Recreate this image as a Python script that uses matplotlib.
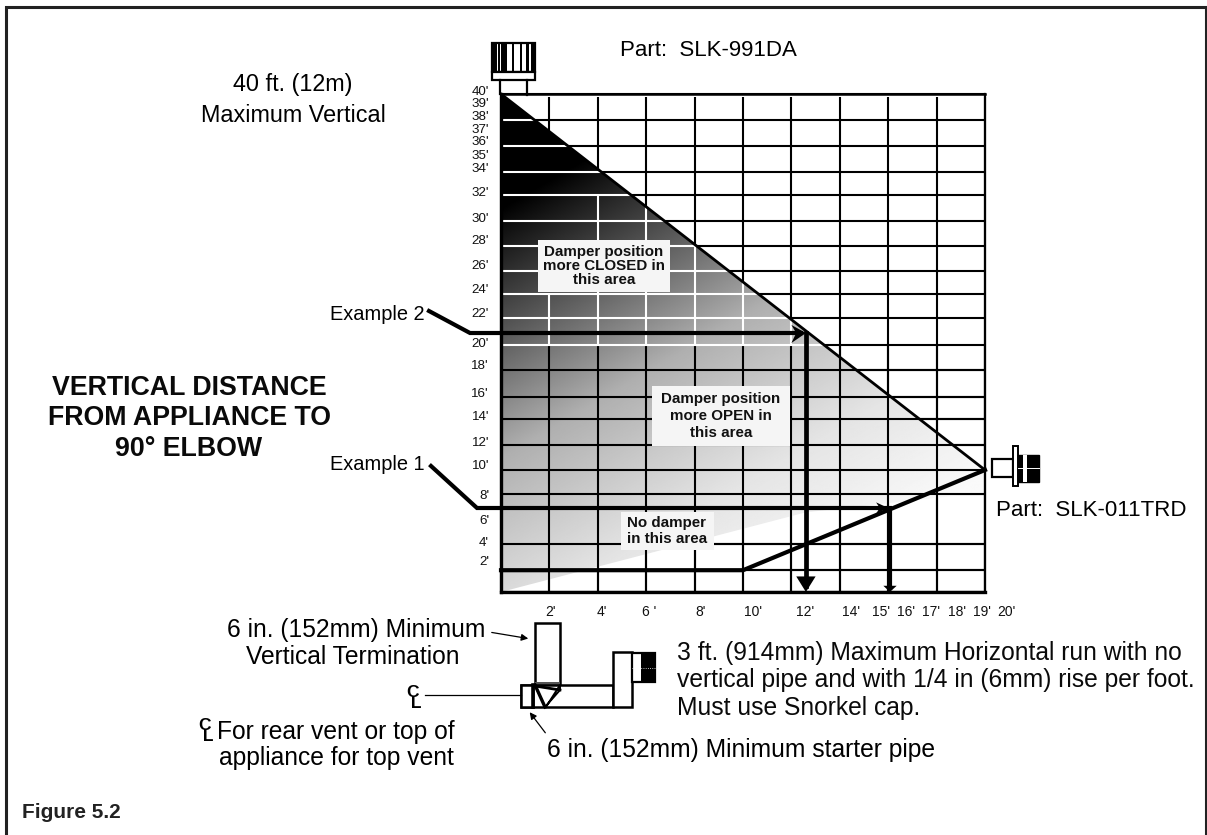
import numpy as np
import matplotlib
matplotlib.use("Agg")
import matplotlib.pyplot as plt
from matplotlib.patches import Polygon, Rectangle

plt.rcParams["font.family"] = ["Liberation Sans", "DejaVu Sans"]

# grid lines, in feet
x_grid = [0, 2, 4, 6, 8, 10, 12, 14, 16, 18, 20]
y_grid = [0, 1.75, 3.85, 7.9, 9.8, 11.8, 13.9, 15.7, 17.8, 19.85, 22.0, 23.9,
          25.8, 27.8, 29.8, 31.9, 33.7, 35.8, 37.9, 40]
# where the white part of each vertical line starts in the shaded area
x_white_top = [23.9, 32, 31, 27.8, 25.8, 23.9, 22, 20, 20, 20]

# vent limits and the two examples, in feet
limit_x = [0, 20]
limit_y = [40, 9.8]
min_x = [0, 10, 20]
min_y = [1.75, 1.75, 9.8]
ex1_x = [0, 15.9]
ex1_y = [6.75, 6.75]
ex2_x = [0, 12.4]
ex2_y = [20.8, 20.8]
ex1_drop = [16.07, 16.07]
ex1_drop_y = [6.75, 0.3]
ex2_drop = [12.6, 12.6]
ex2_drop_y = [20.8, 0.5]

y_labels = ["40'", "39'", "38'", "37'", "36'", "35'", "34'", "32'", "30'", "28'", "26'", "24'",
            "22'", "20'", "18'", "16'", "14'", "12'", "10'", "8'", "6'", "4'", "2'"]
y_label_px = [92, 104, 117, 130, 142, 156, 169, 193, 219, 241, 266, 290, 314, 344, 366, 394,
              417, 443, 466, 496, 521, 543, 562]
x_labels = ["2'", "4'", "6 '", "8'", "10'", "12'", "14'", "15'", "16'", "17'", "18'", "19'", "20'"]
x_label_px = [551, 602, 649, 701, 753, 805, 851, 881, 906, 931, 957, 982, 1006]

fig = plt.figure(figsize=(12.07, 8.35), dpi=100)

# overlay in pixels for the frame, texts and vent drawings
bg = fig.add_axes([0, 0, 1, 1])
bg.set_xlim(0, 1207)
bg.set_ylim(835, 0)
bg.axis("off")

# chart area 501..985 x 94..592 px
ax = fig.add_axes([501 / 1207, 1 - 592 / 835, 484 / 1207, 498 / 835])
ax.set_xlim(0, 20)
ax.set_ylim(0, 40)
ax.axis("off")
ax.patch.set_alpha(0)

LW = 1.5
ax.hlines(y_grid, 0, 20, color="black", lw=LW, zorder=1, clip_on=False)
ax.vlines(x_grid, 0, 39.75, color="black", lw=LW, zorder=1, clip_on=False)

# gradient under the limit line
tri = Polygon([[0, 40], [20, 9.8], [20, 8], [12.6, 6.4], [0, 0]], closed=True, transform=ax.transData,
              fc="none", ec="none")
ax.add_patch(tri)
gx, gy = np.meshgrid(np.linspace(0, 20, 300), np.linspace(0, 40, 500))
t = 0.42 * gx * 24.2 + 0.72 * (40 - gy) * 12.45 - 0.72 * 207 + 0.72 * 94
shade = np.interp(t, [0, 180, 300, 400], [0, 175, 228, 250])
img = ax.imshow(shade, extent=[0, 20, 0, 40], origin="lower", cmap="gray", vmin=0, vmax=255,
                aspect="auto", zorder=2)
img.set_clip_path(tri)

# black lines in the lower part, white in the upper part of the shaded area
low_y = [v for v in y_grid if v < 19]
ax.hlines(low_y, 0, 20, color="black", lw=LW, zorder=3)
ax.vlines(x_grid, 0, 19.85, color="black", lw=LW, zorder=3)
top_y = [v for v in y_grid if v >= 19]
white_h = ax.hlines(top_y, 0, 20, color="white", lw=LW, zorder=3)
white_h.set_clip_path(tri)
white_v = ax.vlines(x_grid[1:], [19.85] * 10, x_white_top, color="white", lw=LW, zorder=3)
white_v.set_clip_path(tri)
ax.plot([0, 0], [0, 40], color="black", lw=2.4, zorder=4, clip_on=False)
ax.plot([0, 20], [0, 0], color="black", lw=2.4, zorder=4, clip_on=False)
ax.plot([20, 20], [0, 40], color="black", lw=1.6, zorder=4, clip_on=False)
ax.plot([0, 20], [40, 40], color="black", lw=1.8, zorder=4, clip_on=False)

ax.plot(limit_x, limit_y, color="black", lw=2.0, zorder=5, clip_on=False)
ax.plot(min_x, min_y, color="black", lw=3.0, zorder=5, solid_joinstyle="miter", clip_on=False)
ax.plot(ex1_x, ex1_y, color="black", lw=3.0, zorder=5)
ax.plot(ex2_x, ex2_y, color="black", lw=3.0, zorder=5)
ax.plot(ex1_drop, ex1_drop_y, color="black", lw=3.0, zorder=5)
ax.plot(ex2_drop, ex2_drop_y, color="black", lw=3.4, zorder=5)
ax.add_patch(Polygon([[12.2, 1.25], [13.0, 1.25], [12.6, 0.0]], fc="black", ec="none", zorder=6))
ax.add_patch(Polygon([[15.8, 0.5], [16.35, 0.5], [16.07, 0.0]], fc="black", ec="none", zorder=6))
ax.add_patch(Polygon([[12.0, 21.45], [12.6, 20.8], [12.0, 20.0], [12.2, 20.8]], fc="black", ec="none", zorder=6))
ax.add_patch(Polygon([[15.5, 7.2], [16.0, 6.75], [15.5, 6.3], [15.65, 6.75]], fc="black", ec="none", zorder=6))

# note boxes
for bx, by, bw, bh, txt, sp, al in [
    (538, 240, 132, 52, "Damper position\nmore CLOSED in\nthis area", 1.0, "center"),
    (652, 386, 138, 60, "Damper position\nmore OPEN in\nthis area", 1.3, "center"),
    (621, 512, 93, 38, "No damper\nin this area", 1.25, "left"),
]:
    ax.add_patch(Rectangle((bx, by), bw, bh, transform=bg.transData, fc="#f5f5f5", ec="none", zorder=7))
    ax.text(bx + bw / 2, by + bh / 2, txt, transform=bg.transData, ha="center", va="center", multialignment=al,
            fontsize=10.9, fontweight="bold", color="#111111", linespacing=sp, zorder=8)

# tick labels
for t_, p in zip(y_labels, y_label_px):
    bg.text(489, p, t_, ha="right", va="center", fontsize=9.6, color="#111111")
for t_, p in zip(x_labels, x_label_px):
    bg.text(p, 612, t_, ha="center", va="center", fontsize=10, color="#111111")

# main texts
bg.text(293, 85, "40 ft. (12m)", ha="center", va="center", fontsize=16.8)
bg.text(293, 116, "Maximum Vertical", ha="center", va="center", fontsize=16.8)
bg.text(620, 51, "Part:  SLK-991DA", ha="left", va="center", fontsize=16)
bg.text(996, 510, "Part:  SLK-011TRD", ha="left", va="center", fontsize=16)
for line, ypos in [("VERTICAL DISTANCE", 388), ("FROM APPLIANCE TO", 418), ("90° ELBOW", 449)]:
    bg.text(189, ypos, line, ha="center", va="center", fontsize=19.3, fontweight="bold", color="#0a0a0a")
bg.text(330, 315, "Example 2", ha="left", va="center", fontsize=14.4)
bg.text(330, 465, "Example 1", ha="left", va="center", fontsize=14.4)
bg.plot([429, 470, 501], [311, 333, 333], color="black", lw=3, solid_joinstyle="miter")
bg.plot([431, 477, 501], [466, 508, 508], color="black", lw=3, solid_joinstyle="miter")
bg.text(356, 630, "6 in. (152mm) Minimum", ha="center", va="center", fontsize=17.7)
bg.text(353, 657, "Vertical Termination", ha="center", va="center", fontsize=17.7)
for line, ypos in [("3 ft. (914mm) Maximum Horizontal run with no", 653),
                   ("vertical pipe and with 1/4 in (6mm) rise per foot.", 680),
                   ("Must use Snorkel cap.", 708)]:
    bg.text(677, ypos, line, ha="left", va="center", fontsize=17.7, color="#0a0a0a")
bg.text(547, 750, "6 in. (152mm) Minimum starter pipe", ha="left", va="center", fontsize=17.7)
bg.text(336, 732, "For rear vent or top of", ha="center", va="center", fontsize=17.7)
bg.text(336, 758, "appliance for top vent", ha="center", va="center", fontsize=17.7)
bg.text(22, 813, "Figure 5.2", ha="left", va="center", fontsize=15, fontweight="bold", color="#222222")

# center line marks
for cx, cy in [(406, 698), (198, 731)]:
    bg.text(cx, cy, "C\n L", ha="left", va="center", fontsize=12.5, fontweight="bold", linespacing=0.7)

# top cap
bg.add_patch(Rectangle((492, 43), 43, 29, fc="white", ec="black", lw=1.6))
for sx, sw in [(493, 4), (498, 1.5), (501, 6), (512, 1.5), (520, 2), (526, 3), (531, 3)]:
    bg.add_patch(Rectangle((sx, 43), sw, 29, fc="black", ec="none"))
bg.add_patch(Rectangle((492, 72), 43, 8, fc="white", ec="black", lw=1.6))
bg.plot([500, 500], [80, 94], color="black", lw=1.6)
bg.plot([527, 527], [80, 95], color="black", lw=1.6)

# side cap
bg.add_patch(Rectangle((992, 459), 21, 18, fc="white", ec="black", lw=1.6))
bg.add_patch(Rectangle((1013, 446), 5, 40, fc="white", ec="black", lw=1.4))
bg.add_patch(Rectangle((1018, 455), 21, 27, fc="black", ec="black", lw=1))
bg.add_patch(Rectangle((1023, 455), 4, 27, fc="white", ec="none"))
bg.plot([1018, 1039], [468, 468], color="white", lw=0.7)

# lower drawing
bg.add_patch(Rectangle((535, 623), 25, 62, fc="white", ec="black", lw=1.8))
bg.add_patch(Rectangle((535, 682), 25, 3, fc="#555555", ec="none"))
bg.add_patch(Rectangle((521, 685), 92, 22, fc="white", ec="black", lw=1.8))
bg.add_patch(Rectangle((521, 685), 12, 22, fc="white", ec="black", lw=1.8))
bg.add_patch(Rectangle((613, 652), 19, 55, fc="white", ec="black", lw=1.8))
bg.add_patch(Rectangle((632, 653), 23, 29, fc="white", ec="black", lw=1.6))
bg.add_patch(Rectangle((641, 653), 14, 29, fc="black", ec="none"))
bg.plot([632, 655], [668, 668], color="white", lw=0.6, ls=":")
bg.plot([535, 545, 560, 560, 546], [685, 707, 690, 685, 707], color="black", lw=1.4)
bg.plot([535, 545], [685, 707], color="black", lw=2.4)
bg.plot([535, 560], [686, 690], color="black", lw=2)
bg.plot([425, 521], [695, 695], color="black", lw=0.9)
bg.plot([533, 533], [685, 707], color="black", lw=2.6)
bg.annotate("", xy=(531, 639), xytext=(489, 632), arrowprops=dict(arrowstyle="-|>", color="black", lw=0.9))
bg.annotate("", xy=(528, 710), xytext=(547, 735), arrowprops=dict(arrowstyle="-|>", color="black", lw=0.9))

# frame, open at the bottom edge of the page
bg.plot([6, 6, 1205.5, 1205.5], [835, 6.5, 6.5, 835], color="#222222", lw=2.2, solid_joinstyle="miter")
ax.set_zorder(1)
bg.set_zorder(2)

fig.savefig("out.png", dpi=100)
